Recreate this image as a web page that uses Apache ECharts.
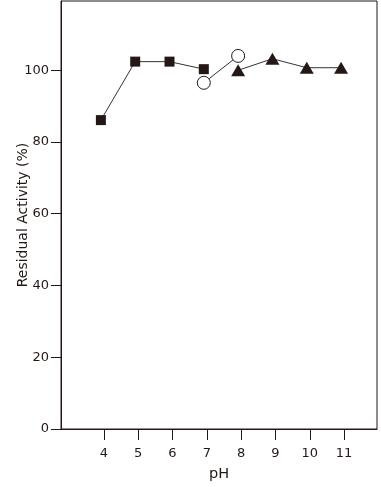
<!DOCTYPE html>
<html>
<head>
<meta charset="utf-8">
<script src="https://cdn.jsdelivr.net/npm/echarts@6/dist/echarts.min.js"></script>
<style>
html,body{margin:0;padding:0;background:#fff;}
#chart{width:381px;height:487px;}
</style>
</head>
<body>
<div id="chart"></div>
<script>
// Data
var xTicks = [4, 5, 6, 7, 8, 9, 10, 11];
var yTicks = [0, 20, 40, 60, 80, 100];
var squarePH = [4, 5, 6, 7];
var squareVals = [86.1, 102.4, 102.4, 100.3];
var circlePH = [7, 8];
var circleVals = [96.5, 104.0];
var trianglePH = [8, 9, 10, 11];
var triangleVals = [100.0, 103.2, 100.7, 100.7];

function pairs(xs, ys) { return xs.map(function (x, i) { return [x, ys[i]]; }); }

var ink = '#231815';
var font = 'DejaVu Sans, Liberation Sans, Arial, sans-serif';
var xMin = 2.75, xMax = 11.96, shift = 0.0875;

var chart = echarts.init(document.getElementById('chart'), null, {renderer: 'canvas'});
chart.setOption({
  animation: false,
  backgroundColor: '#fff',
  grid: {left: 61, right: 4, top: 1, bottom: 58, show: true, borderColor: ink, borderWidth: 1,
         containLabel: false, outerBoundsMode: 'none'},
  xAxis: [{
    type: 'value', min: xMin, max: xMax,
    name: 'pH', nameLocation: 'middle', nameGap: 38, nameMoveOverlap: false,
    nameTextStyle: {fontFamily: font, fontSize: 14.5, color: ink},
    axisLine: {show: true, lineStyle: {color: ink, width: 1}},
    axisTick: {show: true, inside: false, length: 11, customValues: xTicks, lineStyle: {color: ink, width: 1}},
    axisLabel: {customValues: xTicks, margin: 18, fontFamily: font, fontSize: 13, color: ink},
    splitLine: {show: false}
  }, {
    type: 'value', min: xMin + shift, max: xMax + shift, show: false
  }],
  yAxis: {
    type: 'value', min: 0, max: 119.3,
    name: 'Residual Activity (%)', nameLocation: 'middle', nameGap: 31, nameMoveOverlap: false,
    nameTextStyle: {fontFamily: font, fontSize: 14, color: ink},
    axisLine: {show: true, lineStyle: {color: ink, width: 1}},
    axisTick: {show: true, inside: false, length: 10, customValues: yTicks, lineStyle: {color: ink, width: 1}},
    axisLabel: {customValues: yTicks, margin: 12, fontFamily: font, fontSize: 13, color: ink},
    splitLine: {show: false}
  },
  series: [{
    type: 'line', xAxisIndex: 1, data: pairs(circlePH, circleVals),
    symbol: 'circle', symbolSize: 13,
    itemStyle: {color: '#fff', borderColor: ink, borderWidth: 1},
    lineStyle: {color: '#333', width: 1}, z: 2
  }, {
    type: 'line', xAxisIndex: 1, data: pairs(squarePH, squareVals),
    symbol: 'rect', symbolSize: 10,
    itemStyle: {color: ink, borderWidth: 0},
    lineStyle: {color: '#333', width: 1}, z: 3
  }, {
    type: 'line', xAxisIndex: 1, data: pairs(trianglePH, triangleVals),
    symbol: 'triangle', symbolSize: [14, 12],
    itemStyle: {color: ink, borderWidth: 0},
    lineStyle: {color: '#333', width: 1}, z: 4
  }]
});
</script>
</body>
</html>
